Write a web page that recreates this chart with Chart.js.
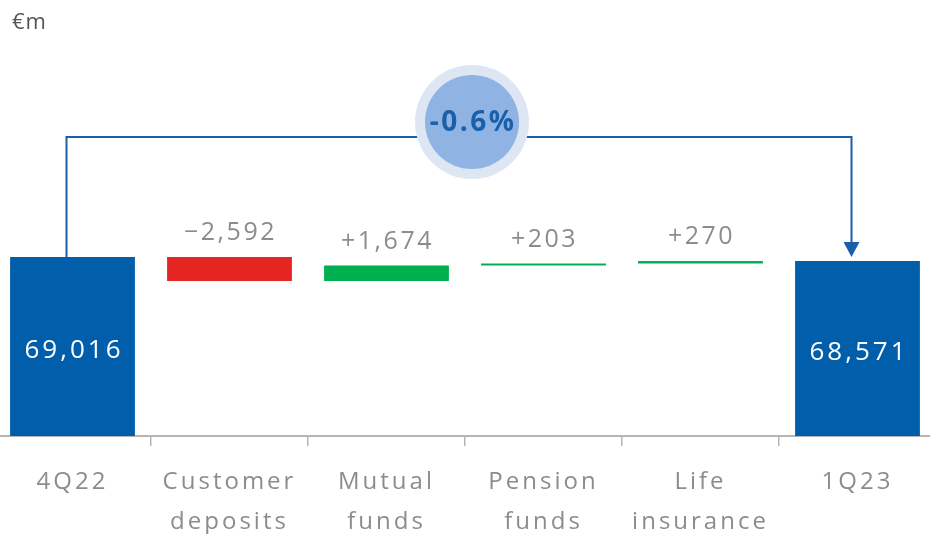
<!DOCTYPE html>
<html>
<head>
<meta charset="utf-8">
<script src="https://cdn.jsdelivr.net/npm/chart.js@4.4.1/dist/chart.umd.min.js"></script>
<style>
  html, body { margin: 0; padding: 0; background: #ffffff; overflow: hidden; }
  #wrap { position: absolute; left: -6px; top: 0; width: 942px; height: 534px; }
  #unit { position: absolute; left: 12px; top: 5px; font-family: "Open Sans", sans-serif; font-size: 22px; letter-spacing: 1px; color: #555555; }
</style>
</head>
<body>
<div id="wrap"><canvas id="wfChart"></canvas></div>
<div id="unit">€m</div>
<script>
// categories and values (EUR m)
var categories = [["4Q22"], ["Customer", "deposits"], ["Mutual", "funds"], ["Pension", "funds"], ["Life", "insurance"], ["1Q23"]];
var start_total = 69016;
var changes = [-2592, 1674, 203, 270];
var end_total = 68571;
var change_labels = ["\u22122,592", "+1,674", "+203", "+270"];
var total_labels = ["69,016", "68,571"];
var growth_label = "-0.6%";

var y_min = 49684;
var y_max = 92452;

function build_floating_bars() {
  var bars = [[y_min, start_total]];
  var running = start_total;
  changes.forEach((c) => {
    bars.push([running, running + c]);
    running += c;
  });
  bars.push([y_min, end_total]);
  return bars;
}

var bar_colors = ["#005eaa", "#e52521", "#00b050", "#00b050", "#00b050", "#005eaa"];

// wider tracking, like the original typeface
var spacingPlugin = {
  id: "spacing",
  beforeUpdate(chart) {
    chart.ctx.letterSpacing = "3px";
  },
  beforeDraw(chart) {
    chart.ctx.letterSpacing = "3px";
  },
};

// labels, bridge line and growth bubble
var overlayPlugin = {
  id: "overlay",
  afterDatasetsDraw(chart) {
    const ctx = chart.ctx;
    const meta = chart.getDatasetMeta(0);
    ctx.save();
    ctx.textAlign = "center";
    ctx.textBaseline = "middle";

    // totals inside blue bars
    [0, 5].forEach((idx, k) => {
      const el = meta.data[idx];
      ctx.fillStyle = "#ffffff";
      ctx.letterSpacing = "3px";
      ctx.font = "26px 'Open Sans', sans-serif";
      ctx.fillText(total_labels[k], el.x + 1.5, (el.y + el.base) / 2 + 4);
    });

    // change labels above bars
    for (let i = 1; i <= 4; i++) {
      const el = meta.data[i];
      const top = Math.min(el.y, el.base);
      ctx.fillStyle = "#8a8d90";
      ctx.letterSpacing = "2.5px";
      ctx.font = "25px 'Open Sans', sans-serif";
      ctx.fillText(change_labels[i - 1], el.x + 1, top - 24);
    }

    // bridge line
    const first = meta.data[0];
    const last = meta.data[5];
    const x1 = first.x - 6;
    const x2 = last.x - 6;
    const yLine = first.y - 120;
    ctx.strokeStyle = "#1a5fa9";
    ctx.lineWidth = 2;
    ctx.beginPath();
    ctx.moveTo(x1, first.y);
    ctx.lineTo(x1, yLine);
    ctx.lineTo(x2, yLine);
    ctx.lineTo(x2, last.y - 14);
    ctx.stroke();
    ctx.fillStyle = "#1a5fa9";
    ctx.beginPath();
    ctx.moveTo(x2 - 8, last.y - 19);
    ctx.lineTo(x2 + 8, last.y - 19);
    ctx.lineTo(x2, last.y - 4);
    ctx.closePath();
    ctx.fill();

    // bubble
    const cx = (first.x + last.x) / 2 + 7;
    const cy = yLine - 15;
    ctx.fillStyle = "#dde6f2";
    ctx.beginPath();
    ctx.arc(cx, cy, 57, 0, Math.PI * 2);
    ctx.fill();
    ctx.fillStyle = "#8fb3e3";
    ctx.beginPath();
    ctx.arc(cx, cy, 47, 0, Math.PI * 2);
    ctx.fill();
    ctx.fillStyle = "#1a5fa9";
    ctx.letterSpacing = "2.5px";
    ctx.font = "bold 28px 'Open Sans', sans-serif";
    ctx.fillText(growth_label, cx + 1, cy + 1);

    ctx.restore();
  },
};

function init_chart() {
  var ctx = document.getElementById("wfChart").getContext("2d");
  new Chart(ctx, {
    type: "bar",
    data: {
      labels: categories,
      datasets: [
        {
          data: build_floating_bars(),
          backgroundColor: bar_colors,
          borderWidth: 0,
          borderSkipped: false,
          categoryPercentage: 1.0,
          barPercentage: 0.795,
        },
      ],
    },
    options: {
      responsive: true,
      maintainAspectRatio: false,
      animation: false,
      layout: { padding: { top: 40, left: 0, right: 0, bottom: 0 } },
      plugins: {
        legend: { display: false },
        tooltip: { enabled: false },
      },
      scales: {
        x: {
          offset: true,
          afterFit: function (scale) {
            scale.height = 98;
          },
          grid: {
            offset: true,
            drawOnChartArea: false,
            drawTicks: true,
            tickLength: 10,
            color: "#b5b5b5",
            lineWidth: 1.5,
          },
          border: { display: true, color: "#b5b5b5", width: 2 },
          ticks: {
            color: "#8a8d90",
            font: { family: "'Open Sans', sans-serif", size: 24, lineHeight: 1.67 },
            padding: 16,
            maxRotation: 0,
            autoSkip: false,
          },
        },
        y: {
          display: false,
          min: y_min,
          max: y_max,
        },
      },
    },
    plugins: [spacingPlugin, overlayPlugin],
  });
}

window.addEventListener("DOMContentLoaded", init_chart);
</script>
</body>
</html>
